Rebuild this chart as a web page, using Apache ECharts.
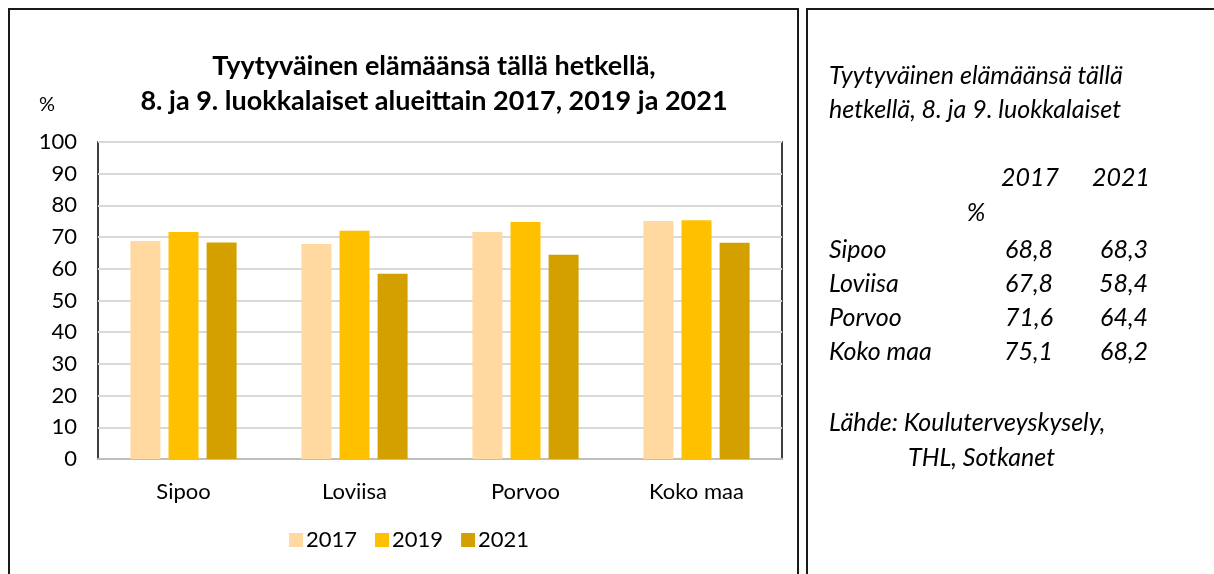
<!DOCTYPE html>
<html>
<head>
<meta charset="utf-8">
<script src="https://cdn.jsdelivr.net/npm/echarts@6/dist/echarts.min.js"></script>
<style>
  html, body { margin: 0; padding: 0; background: #fff; }
  #chart { width: 1214px; height: 574px; }
</style>
</head>
<body>
<div id="chart"></div>
<script>
// alueet ja vuodet
const regions = ['Sipoo', 'Loviisa', 'Porvoo', 'Koko maa'];
const years = ['2017', '2019', '2021'];
const v2017 = [68.8, 67.8, 71.6, 75.1];
const v2019 = [71.6, 72.0, 74.8, 75.3];
const v2021 = [68.3, 58.4, 64.4, 68.2];
const yTicks = [0, 10, 20, 30, 40, 50, 60, 70, 80, 90, 100];
const colors = ['#FFD99F', '#FFC000', '#D4A000'];

const FONT = 'Lato';
const chart = echarts.init(document.getElementById('chart'));

const fmt = (v) => v.toFixed(1).replace('.', ',');

// oikean laatikon taulukko
const tableTexts = [];
const rowY = [250, 284, 318, 352];
const italic = { fontFamily: FONT, fontStyle: 'italic', fontSize: 25, fill: '#000' };
tableTexts.push({ type: 'text', x: 829, y: 76, style: Object.assign({ text: 'Tyytyväinen elämäänsä tällä', verticalAlign: 'middle' }, italic) });
tableTexts.push({ type: 'text', x: 829, y: 110, style: Object.assign({ text: 'hetkellä, 8. ja 9. luokkalaiset', verticalAlign: 'middle' }, italic) });
tableTexts.push({ type: 'text', x: 1059, y: 178, style: Object.assign({ text: years[0], align: 'right', verticalAlign: 'middle' }, italic) });
tableTexts.push({ type: 'text', x: 1150, y: 178, style: Object.assign({ text: years[2], align: 'right', verticalAlign: 'middle' }, italic) });
tableTexts.push({ type: 'text', x: 976, y: 213, style: Object.assign({ text: '%', align: 'center', verticalAlign: 'middle' }, italic) });
regions.forEach((r, i) => {
    tableTexts.push({ type: 'text', x: 829, y: rowY[i], style: Object.assign({ text: r, verticalAlign: 'middle' }, italic) });
    tableTexts.push({ type: 'text', x: 1053, y: rowY[i], style: Object.assign({ text: fmt(v2017[i]), align: 'right', verticalAlign: 'middle' }, italic) });
    tableTexts.push({ type: 'text', x: 1148, y: rowY[i], style: Object.assign({ text: fmt(v2021[i]), align: 'right', verticalAlign: 'middle' }, italic) });
});
tableTexts.push({ type: 'text', x: 829, y: 423, style: Object.assign({ text: 'Lähde: Kouluterveyskysely,', verticalAlign: 'middle' }, italic) });
tableTexts.push({ type: 'text', x: 908, y: 458, style: Object.assign({ text: 'THL, Sotkanet', verticalAlign: 'middle' }, italic) });

const option = {
    animation: false,
    backgroundColor: '#fff',
    textStyle: { fontFamily: FONT },
    title: {
        text: 'Tyytyväinen elämäänsä tällä hetkellä,\n8. ja 9. luokkalaiset alueittain 2017, 2019 ja 2021',
        left: 429,
        textAlign: 'center',
        top: 44,
        textStyle: { fontFamily: FONT, fontWeight: 'bold', fontSize: 27, lineHeight: 35, color: '#000' }
    },
    legend: {
        data: years,
        bottom: 18,
        left: 284,
        itemWidth: 14,
        itemHeight: 14,
        itemGap: 18,
        icon: 'rect',
        textStyle: { fontFamily: FONT, fontSize: 22, color: '#000', padding: [0, 0, 0, -2] }
    },
    grid: {
        left: 98, right: 432, top: 142, bottom: 115,
        show: true, borderColor: '#000', borderWidth: 1.5, containLabel: false
    },
    xAxis: {
        type: 'category',
        data: regions,
        axisTick: { show: false },
        axisLine: { lineStyle: { color: '#bfbfbf', width: 2 } },
        axisLabel: { fontFamily: FONT, fontSize: 22, color: '#000', margin: 22 }
    },
    yAxis: {
        type: 'value',
        min: yTicks[0],
        max: yTicks[yTicks.length - 1],
        interval: 10,
        axisLine: { show: false },
        axisTick: { show: false },
        axisLabel: { fontFamily: FONT, fontSize: 22, color: '#000', margin: 21 },
        splitLine: { lineStyle: { color: '#d9d9d9', width: 2 } }
    },
    series: [
        { name: years[0], type: 'bar', data: v2017, barWidth: 30, barGap: '27%', itemStyle: { color: colors[0] } },
        { name: years[1], type: 'bar', data: v2019, barWidth: 30, barGap: '27%', itemStyle: { color: colors[1] } },
        { name: years[2], type: 'bar', data: v2021, barWidth: 30, barGap: '27%', itemStyle: { color: colors[2] } }
    ],
    graphic: [
        { type: 'rect', shape: { x: 9, y: 9, width: 789, height: 600 }, style: { fill: 'none', stroke: '#1a1a1a', lineWidth: 2 } },
        { type: 'rect', shape: { x: 807, y: 9, width: 600, height: 600 }, style: { fill: 'none', stroke: '#1a1a1a', lineWidth: 2 } },
        { type: 'text', x: 47, y: 105, style: { text: '%', fontFamily: FONT, fontSize: 20, fill: '#000', align: 'center', verticalAlign: 'middle' } }
    ].concat(tableTexts)
};

chart.setOption(option);
</script>
</body>
</html>
